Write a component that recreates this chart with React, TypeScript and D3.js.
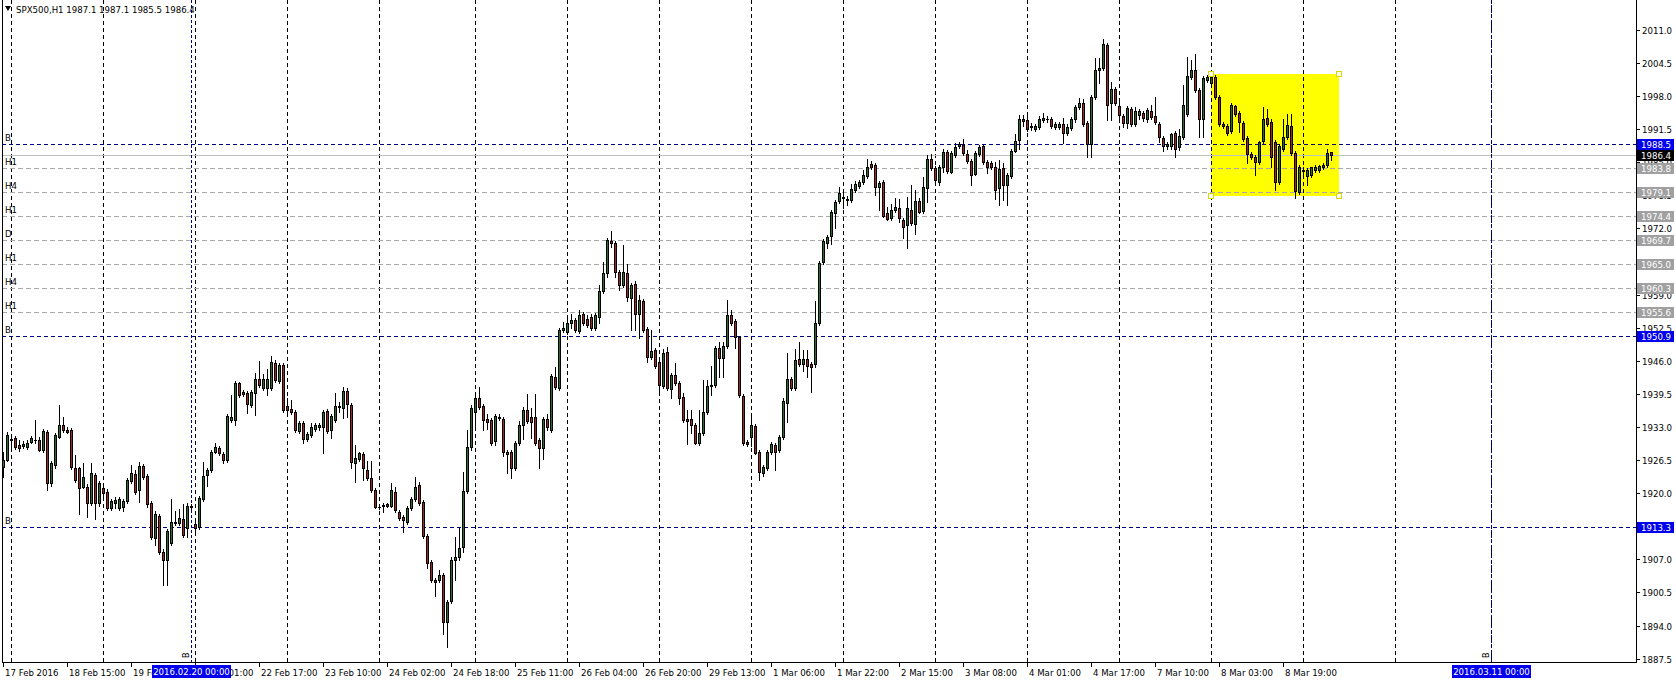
import React from "react";
import * as d3 from "d3";

// ---- OHLC data (SPX500, H1), bar 0 .. bar 332 ----
const opens = [
  1925.2, 1926.5, 1930.6, 1930.8, 1929.5, 1929.3, 1929.1, 1930.1, 1930.5, 1930.4,
  1928.5, 1932.1, 1921.9, 1925.5, 1931.0, 1933.4, 1932.5, 1932.4, 1924.9, 1924.9,
  1921.3, 1921.3, 1918.0, 1923.6, 1918.0, 1921.0, 1920.3, 1917.0, 1918.0, 1917.0,
  1917.2, 1918.4, 1922.3, 1923.8, 1920.6, 1925.3, 1923.4, 1918.0, 1911.1, 1915.5,
  1908.5, 1906.9, 1910.3, 1914.4, 1914.1, 1915.0, 1913.1, 1917.3, 1913.9, 1913.3,
  1918.8, 1923.6, 1924.5, 1928.1, 1928.8, 1927.7, 1926.6, 1934.4, 1934.4, 1941.6,
  1939.9, 1939.7, 1937.4, 1939.6, 1942.5, 1940.6, 1940.6, 1940.6, 1945.5, 1942.1,
  1945.2, 1937.1, 1936.5, 1936.0, 1932.3, 1933.7, 1930.6, 1931.4, 1932.6, 1932.9,
  1932.9, 1936.1, 1932.5, 1934.4, 1937.1, 1936.8, 1940.1, 1937.4, 1926.0, 1926.8,
  1927.6, 1924.5, 1922.9, 1920.6, 1917.3, 1917.4, 1917.8, 1917.5, 1920.3, 1916.3,
  1915.4, 1914.4, 1917.0, 1918.8, 1921.6, 1918.2, 1911.6, 1906.5, 1902.9, 1902.9,
  1903.9, 1894.7, 1898.8, 1906.9, 1907.5, 1909.5, 1920.4, 1929.1, 1936.0, 1938.7,
  1937.2, 1934.5, 1934.4, 1930.2, 1935.0, 1934.6, 1928.0, 1928.0, 1925.0, 1929.8,
  1933.4, 1936.3, 1935.0, 1935.0, 1930.4, 1928.8, 1934.6, 1932.4, 1942.9, 1940.6,
  1952.0, 1951.6, 1953.5, 1954.0, 1951.8, 1955.1, 1954.2, 1954.7, 1952.5, 1954.7,
  1959.7, 1963.2, 1969.5, 1969.1, 1963.4, 1960.8, 1963.2, 1958.4, 1961.0, 1955.1,
  1957.7, 1952.2, 1946.8, 1948.1, 1945.8, 1941.1, 1947.8, 1940.5, 1943.3, 1941.7,
  1938.8, 1934.5, 1934.5, 1933.4, 1929.8, 1931.9, 1936.0, 1941.0, 1941.2, 1948.6,
  1946.5, 1948.9, 1955.0, 1953.9, 1950.7, 1939.1, 1930.0, 1931.0, 1933.2, 1928.1,
  1924.0, 1924.9, 1928.1, 1929.4, 1928.5, 1931.0, 1937.8, 1942.4, 1940.6, 1946.3,
  1945.4, 1946.3, 1945.4, 1945.4, 1953.4, 1965.5, 1969.1, 1970.5, 1975.1, 1977.4,
  1978.1, 1977.6, 1977.5, 1979.6, 1980.3, 1981.2, 1982.3, 1984.6, 1984.5, 1980.1,
  1981.2, 1975.1, 1974.0, 1975.6, 1976.1, 1973.7, 1972.7, 1975.7, 1972.9, 1977.3,
  1975.5, 1979.9, 1985.6, 1983.8, 1981.2, 1984.0, 1987.1, 1983.1, 1986.4, 1988.2,
  1988.4, 1986.6, 1985.3, 1982.7, 1986.6, 1988.2, 1985.1, 1984.9, 1984.0, 1979.9,
  1983.8, 1980.5, 1982.3, 1987.3, 1989.4, 1993.4, 1993.3, 1991.9, 1991.5, 1991.9,
  1993.3, 1993.5, 1993.4, 1992.0, 1992.0, 1992.5, 1990.7, 1991.7, 1993.4, 1995.8,
  1996.7, 1992.8, 1988.6, 1997.8, 2003.1, 2003.5, 2008.0, 1996.6, 1999.3, 1996.1,
  1994.0, 1992.8, 1995.4, 1992.5, 1994.3, 1994.6, 1993.4, 1995.1, 1994.0, 1992.6,
  1989.7, 1988.1, 1988.1, 1990.7, 1987.9, 1989.9, 1994.5, 2001.7, 2003.1, 1999.1,
  1993.4, 2001.2, 2000.6, 2001.7, 1997.8, 1992.5, 1992.1, 1991.2, 1996.1, 1994.6,
  1992.7, 1989.7, 1986.6, 1986.1, 1985.1, 1989.1, 1993.6, 1993.0, 1988.9, 1981.2,
  1987.7, 1990.0, 1992.1, 1986.9, 1979.2, 1983.4, 1982.3, 1982.5, 1983.4, 1983.4,
  1984.1, 1984.5, 1987.1,
];
const highs = [
  1928.1, 1932.0, 1931.4, 1931.2, 1930.4, 1930.2, 1930.4, 1931.3, 1934.4, 1931.0,
  1932.6, 1932.5, 1926.3, 1931.8, 1937.3, 1935.0, 1933.0, 1932.8, 1927.5, 1925.2,
  1926.0, 1921.8, 1925.9, 1924.0, 1922.4, 1921.6, 1920.8, 1918.9, 1919.2, 1919.2,
  1918.9, 1923.0, 1925.5, 1924.5, 1926.1, 1925.8, 1923.8, 1918.4, 1916.5, 1916.0,
  1909.0, 1913.0, 1918.8, 1916.4, 1916.8, 1917.9, 1918.0, 1917.8, 1914.3, 1919.4,
  1926.2, 1925.0, 1928.4, 1929.8, 1929.2, 1928.0, 1935.5, 1939.3, 1942.0, 1941.9,
  1940.3, 1940.0, 1940.3, 1943.7, 1946.0, 1943.5, 1944.3, 1946.9, 1946.2, 1945.6,
  1945.6, 1938.6, 1938.3, 1936.4, 1934.1, 1934.1, 1932.0, 1933.7, 1933.8, 1933.8,
  1936.4, 1936.5, 1935.6, 1939.6, 1938.0, 1940.9, 1940.6, 1937.8, 1929.4, 1928.1,
  1928.0, 1926.3, 1926.3, 1921.0, 1917.6, 1918.0, 1918.1, 1921.9, 1921.3, 1916.7,
  1915.8, 1917.4, 1919.2, 1923.2, 1922.2, 1918.6, 1912.0, 1906.9, 1903.3, 1904.9,
  1904.3, 1899.1, 1907.5, 1911.4, 1913.1, 1924.1, 1932.4, 1937.3, 1939.3, 1940.9,
  1937.6, 1935.5, 1934.8, 1935.6, 1935.5, 1935.0, 1928.4, 1928.4, 1930.2, 1934.2,
  1937.0, 1939.4, 1936.8, 1939.4, 1930.8, 1935.0, 1935.5, 1943.5, 1944.8, 1952.4,
  1953.7, 1954.3, 1955.1, 1954.4, 1956.0, 1955.5, 1955.0, 1955.1, 1955.3, 1960.9,
  1965.5, 1970.1, 1971.5, 1969.5, 1963.8, 1968.7, 1965.1, 1961.3, 1961.7, 1958.9,
  1958.1, 1952.7, 1952.0, 1948.5, 1946.2, 1948.4, 1948.8, 1943.7, 1945.5, 1942.1,
  1939.6, 1936.3, 1936.3, 1933.8, 1936.3, 1942.3, 1942.3, 1945.0, 1949.0, 1949.6,
  1949.6, 1957.9, 1956.0, 1954.3, 1950.9, 1939.5, 1930.4, 1935.1, 1933.6, 1928.5,
  1925.5, 1928.5, 1930.0, 1929.8, 1931.4, 1938.6, 1947.6, 1942.8, 1948.4, 1949.6,
  1948.2, 1948.2, 1945.8, 1957.8, 1965.7, 1970.0, 1970.8, 1975.7, 1977.5, 1980.2,
  1979.2, 1978.4, 1980.7, 1981.4, 1981.6, 1983.5, 1985.6, 1985.3, 1984.9, 1981.4,
  1981.6, 1976.3, 1976.8, 1977.9, 1977.7, 1974.1, 1978.1, 1980.5, 1979.5, 1977.9,
  1982.2, 1986.4, 1986.6, 1984.2, 1984.4, 1987.7, 1987.5, 1987.3, 1988.8, 1989.0,
  1989.5, 1987.4, 1985.7, 1987.2, 1988.3, 1988.6, 1985.5, 1985.3, 1985.1, 1985.4,
  1984.8, 1982.9, 1987.7, 1990.5, 1994.3, 1994.3, 1994.5, 1992.8, 1992.5, 1994.1,
  1994.6, 1994.0, 1993.8, 1993.0, 1992.9, 1993.6, 1992.5, 1993.8, 1996.3, 1997.6,
  1997.4, 1993.2, 1998.2, 2005.4, 2005.4, 2009.2, 2008.4, 2000.8, 1999.7, 1997.2,
  1994.4, 1996.1, 1995.8, 1995.8, 1995.4, 1995.0, 1995.7, 1996.2, 1997.9, 1993.0,
  1990.1, 1989.0, 1990.8, 1991.1, 1991.5, 2000.2, 2005.6, 2005.1, 2006.3, 1999.5,
  2001.9, 2002.1, 2002.2, 2002.1, 1998.2, 1992.9, 1992.5, 1996.7, 1996.3, 1995.0,
  1993.1, 1990.1, 1987.0, 1986.5, 1989.2, 1995.8, 1995.4, 1993.4, 1989.3, 1988.6,
  1993.4, 1994.5, 1994.5, 1987.3, 1984.5, 1984.1, 1983.8, 1984.1, 1984.5, 1984.5,
  1984.9, 1987.7, 1987.1,
];
const lows = [
  1923.2, 1926.3, 1928.8, 1928.6, 1928.3, 1928.9, 1928.6, 1929.8, 1929.9, 1928.2,
  1928.1, 1920.6, 1921.5, 1925.0, 1930.8, 1932.0, 1931.8, 1924.8, 1922.2, 1916.0,
  1921.0, 1915.4, 1917.6, 1915.0, 1917.5, 1919.5, 1916.7, 1916.6, 1917.0, 1916.7,
  1916.4, 1918.0, 1922.0, 1919.8, 1918.3, 1922.8, 1917.3, 1910.9, 1909.8, 1908.1,
  1901.9, 1901.9, 1909.9, 1913.7, 1913.7, 1911.4, 1911.4, 1916.9, 1912.6, 1912.9,
  1918.4, 1921.5, 1924.2, 1927.8, 1927.4, 1926.0, 1926.2, 1934.0, 1933.4, 1938.9,
  1939.1, 1935.8, 1937.0, 1935.3, 1940.8, 1940.2, 1939.3, 1940.2, 1941.9, 1941.7,
  1935.9, 1935.9, 1935.6, 1932.0, 1931.9, 1929.8, 1930.2, 1931.0, 1932.2, 1932.5,
  1927.8, 1931.9, 1930.8, 1934.0, 1936.0, 1934.7, 1935.0, 1925.0, 1922.2, 1926.4,
  1922.6, 1922.5, 1920.2, 1917.0, 1916.9, 1916.3, 1917.2, 1917.2, 1916.3, 1914.8,
  1912.4, 1914.0, 1916.6, 1918.4, 1917.6, 1911.2, 1905.2, 1902.5, 1899.7, 1902.5,
  1892.4, 1889.8, 1898.4, 1902.9, 1906.9, 1908.5, 1920.0, 1928.5, 1932.4, 1936.6,
  1932.4, 1932.7, 1929.4, 1929.4, 1934.3, 1927.2, 1923.9, 1923.0, 1924.6, 1929.4,
  1930.6, 1933.8, 1930.9, 1929.4, 1924.9, 1926.7, 1932.5, 1932.0, 1940.5, 1940.2,
  1951.6, 1951.2, 1952.4, 1951.6, 1951.4, 1953.1, 1952.6, 1952.0, 1952.1, 1953.4,
  1959.3, 1962.5, 1968.4, 1962.5, 1959.9, 1960.4, 1957.7, 1952.0, 1952.0, 1950.5,
  1951.7, 1945.8, 1946.4, 1944.5, 1939.3, 1940.7, 1940.2, 1938.6, 1941.3, 1937.6,
  1934.0, 1929.6, 1931.9, 1929.6, 1929.4, 1931.5, 1935.6, 1939.3, 1940.8, 1942.9,
  1942.9, 1948.5, 1953.0, 1948.6, 1938.9, 1929.4, 1929.2, 1929.3, 1927.6, 1922.6,
  1923.4, 1924.5, 1927.7, 1924.5, 1928.1, 1930.6, 1934.0, 1940.2, 1940.2, 1945.0,
  1943.9, 1942.9, 1939.9, 1944.8, 1953.0, 1965.0, 1968.1, 1969.0, 1972.0, 1977.0,
  1976.1, 1976.6, 1977.1, 1979.2, 1979.9, 1980.8, 1981.9, 1983.7, 1978.6, 1975.6,
  1974.3, 1973.7, 1973.6, 1975.2, 1973.3, 1970.1, 1968.1, 1972.7, 1971.0, 1975.0,
  1975.1, 1977.1, 1983.4, 1980.5, 1980.5, 1983.1, 1982.9, 1982.8, 1986.0, 1987.8,
  1986.4, 1984.9, 1980.5, 1982.5, 1986.2, 1984.7, 1982.8, 1983.7, 1977.7, 1976.6,
  1977.6, 1976.6, 1981.9, 1987.0, 1987.7, 1992.1, 1991.1, 1991.3, 1991.1, 1991.5,
  1993.0, 1993.0, 1991.7, 1991.6, 1991.6, 1988.7, 1990.4, 1991.3, 1993.0, 1995.4,
  1992.1, 1986.1, 1986.1, 1997.4, 2000.5, 2003.1, 1993.3, 1993.3, 1996.3, 1993.4,
  1992.0, 1991.7, 1992.1, 1992.1, 1993.4, 1993.2, 1993.0, 1993.4, 1992.6, 1989.0,
  1987.3, 1987.7, 1987.7, 1986.1, 1987.5, 1989.5, 1994.1, 2001.3, 1998.8, 1990.0,
  1990.0, 2000.8, 2000.2, 1997.4, 1992.1, 1991.7, 1990.4, 1990.8, 1994.1, 1991.0,
  1989.1, 1984.9, 1985.6, 1982.5, 1984.7, 1988.7, 1992.1, 1984.1, 1979.6, 1980.8,
  1987.3, 1989.6, 1986.5, 1977.9, 1978.8, 1982.5, 1980.5, 1982.2, 1983.0, 1983.0,
  1983.7, 1984.1, 1985.5,
];
const closes = [
  1926.5, 1931.5, 1930.5, 1929.1, 1928.9, 1929.7, 1929.9, 1930.8, 1930.4, 1928.5,
  1932.3, 1921.9, 1925.9, 1931.4, 1933.4, 1932.4, 1932.1, 1925.1, 1922.6, 1921.0,
  1923.2, 1918.1, 1924.0, 1918.1, 1921.9, 1920.0, 1917.0, 1918.5, 1918.6, 1918.8,
  1918.5, 1922.6, 1923.9, 1920.3, 1925.3, 1923.2, 1917.9, 1911.3, 1916.0, 1908.5,
  1906.9, 1912.6, 1914.4, 1914.1, 1915.2, 1911.8, 1917.5, 1917.4, 1913.1, 1919.0,
  1923.4, 1924.5, 1928.0, 1929.0, 1927.8, 1926.5, 1935.2, 1934.9, 1941.6, 1939.3,
  1939.5, 1937.5, 1939.9, 1942.5, 1941.2, 1942.5, 1942.4, 1945.8, 1942.2, 1945.2,
  1936.3, 1936.3, 1936.0, 1932.4, 1933.7, 1930.6, 1931.6, 1933.0, 1933.3, 1933.4,
  1936.0, 1932.3, 1935.2, 1937.2, 1936.9, 1940.1, 1937.6, 1926.2, 1927.0, 1927.8,
  1924.9, 1922.9, 1920.6, 1917.3, 1917.2, 1917.6, 1917.5, 1920.6, 1916.7, 1915.2,
  1914.7, 1917.0, 1918.8, 1921.3, 1918.0, 1911.6, 1906.2, 1902.9, 1902.5, 1904.0,
  1894.7, 1898.7, 1906.9, 1907.5, 1909.3, 1920.4, 1929.1, 1936.8, 1938.7, 1937.0,
  1934.4, 1934.0, 1929.8, 1935.2, 1934.7, 1928.0, 1927.7, 1924.9, 1929.8, 1933.4,
  1936.3, 1934.2, 1934.0, 1929.8, 1928.9, 1934.6, 1932.9, 1943.1, 1940.9, 1952.0,
  1952.5, 1953.5, 1954.0, 1952.0, 1955.0, 1953.5, 1953.0, 1952.4, 1955.0, 1959.7,
  1963.2, 1969.7, 1969.1, 1963.4, 1960.9, 1963.4, 1958.6, 1960.9, 1955.1, 1957.9,
  1952.0, 1946.8, 1947.9, 1945.0, 1941.2, 1947.5, 1940.6, 1943.3, 1941.7, 1938.6,
  1934.4, 1934.2, 1933.4, 1929.9, 1931.9, 1936.0, 1941.0, 1941.2, 1948.6, 1946.5,
  1948.9, 1955.0, 1953.4, 1950.6, 1939.3, 1929.8, 1929.6, 1933.4, 1927.8, 1924.2,
  1925.1, 1928.1, 1929.6, 1928.1, 1931.0, 1938.2, 1942.5, 1940.6, 1946.1, 1945.4,
  1946.3, 1945.0, 1944.7, 1953.4, 1965.3, 1969.6, 1970.4, 1975.3, 1977.1, 1979.0,
  1978.0, 1977.7, 1979.7, 1980.7, 1981.2, 1982.5, 1984.0, 1984.1, 1980.1, 1981.0,
  1974.4, 1973.8, 1975.7, 1976.3, 1974.0, 1972.2, 1976.1, 1973.0, 1977.3, 1975.3,
  1980.1, 1985.6, 1983.8, 1981.6, 1984.0, 1987.1, 1983.3, 1986.9, 1987.9, 1988.6,
  1986.8, 1985.3, 1982.5, 1986.8, 1987.9, 1985.1, 1984.1, 1984.1, 1979.5, 1983.6,
  1980.5, 1982.5, 1987.3, 1989.2, 1993.4, 1993.2, 1991.5, 1992.1, 1992.1, 1993.4,
  1993.6, 1993.4, 1992.1, 1992.5, 1992.5, 1990.7, 1991.9, 1993.4, 1995.8, 1996.7,
  1992.5, 1988.6, 1997.8, 2003.1, 2003.5, 2008.2, 1996.2, 1999.3, 1996.7, 1994.3,
  1992.8, 1995.6, 1992.5, 1995.1, 1995.1, 1993.6, 1995.3, 1993.8, 1993.0, 1989.9,
  1988.2, 1988.6, 1990.6, 1987.7, 1990.2, 1996.3, 2001.9, 2003.1, 1999.2, 1993.4,
  2001.5, 2001.7, 2001.8, 1997.8, 1992.5, 1992.1, 1990.8, 1996.3, 1994.5, 1993.0,
  1989.5, 1986.6, 1986.0, 1985.1, 1988.9, 1993.4, 1992.5, 1986.1, 1981.2, 1988.2,
  1989.9, 1992.3, 1986.9, 1979.4, 1984.1, 1983.3, 1983.4, 1984.0, 1984.1, 1984.3,
  1984.5, 1986.9, 1986.4,
];

// ---- axes ----
const priceTicks = [
  1887.5, 1894.0, 1900.5, 1907.0, 1913.5, 1920.0, 1926.5, 1933.0, 1939.5, 1946.0,
  1952.5, 1959.0, 1965.5, 1972.0, 1978.5, 1985.0, 1991.5, 1998.0, 2004.5, 2011.0,
];
const timeLabels = [
  "17 Feb 2016", "18 Feb 15:00", "19 Feb 08:00", "22 Feb 01:00", "22 Feb 17:00",
  "23 Feb 10:00", "24 Feb 02:00", "24 Feb 18:00", "25 Feb 11:00", "26 Feb 04:00",
  "26 Feb 20:00", "29 Feb 13:00", "1 Mar 06:00", "1 Mar 22:00", "2 Mar 15:00",
  "3 Mar 08:00", "4 Mar 01:00", "4 Mar 17:00", "7 Mar 10:00", "8 Mar 03:00",
  "8 Mar 19:00",
];
const timeLabelStep = 16; // bars between time labels
const gridBars = [2, 25, 48, 71, 94, 118, 141, 164, 187, 210, 233, 256, 279, 302, 325, 348, 372];

// ---- horizontal levels ----
const levelPrices = [1988.5, 1983.8, 1979.1, 1974.4, 1969.7, 1965.0, 1960.3, 1955.6, 1950.9, 1913.3];
const levelTags = ["B", "H1", "H4", "H1", "D", "H1", "H4", "H1", "B", "B"];

// ---- vertical events ----
const eventBars = [47, 372];
const eventLabels = ["2016.02.20 00:00", "2016.03.11 00:00"];

// ---- rectangle object ----
const rectBars = [302, 334];
const rectPrices = [2002.3, 1978.4];

const BULL = "#2b6b2b";
const BEAR = "#a32626";
const NAVY = "#000080";
const FONT = "'DejaVu Sans', Verdana, Tahoma, sans-serif";
const FS = 8.6;

export default function App() {
  const n = closes.length;
  const x = d3.scaleLinear().domain([0, 1]).range([3, 7]);
  const y = d3.scaleLinear().domain([1887.5, 2011.0]).range([658.6, 29.9]);
  const X = (i: number) => Math.round(x(i));
  const Y = (p: number) => Math.round(y(p));

  const plotL = 2;
  const plotR = 1636;
  const plotB = 662;
  const fmt = (v: number) => v.toFixed(1);

  const lastO = opens[n - 1], lastH = highs[n - 1], lastL = lows[n - 1], lastC = closes[n - 1];

  return (
    <svg
      width={1676}
      height={683}
      style={{ position: "absolute", left: 0, top: 0, background: "#fff" }}
    >
      <rect x={0} y={0} width={1676} height={683} fill="#fff" />
      {/* yellow rectangle */}
      <rect
        x={X(rectBars[0])}
        y={Y(rectPrices[0])}
        width={X(rectBars[1]) - X(rectBars[0])}
        height={Y(rectPrices[1]) - Y(rectPrices[0])}
        fill="#ffff00"
        shapeRendering="crispEdges"
      />
      {/* vertical grid */}
      <g shapeRendering="crispEdges">
        {gridBars.map((b) => (
          <line key={b} x1={X(b) + 0.5} x2={X(b) + 0.5} y1={0} y2={plotB} stroke="#000" strokeDasharray="4,3" />
        ))}
      </g>
      {/* horizontal level lines */}
      <g shapeRendering="crispEdges">
        {levelPrices.map((p, k) => (
          <line
            key={k}
            x1={plotL}
            x2={plotR}
            y1={Y(p) + 0.5}
            y2={Y(p) + 0.5}
            stroke={levelTags[k] === "B" ? NAVY : "#a8a8a8"}
            strokeDasharray={levelTags[k] === "B" ? "4,3" : "5,3"}
          />
        ))}
        <line x1={plotL} x2={plotR} y1={Y(lastC) + 0.5} y2={Y(lastC) + 0.5} stroke="#c0c0c0" />
      </g>
      {/* event vertical lines */}
      <g shapeRendering="crispEdges">
        {eventBars.map((b, k) => (
          <line key={k} x1={X(b) + 0.5} x2={X(b) + 0.5} y1={0} y2={plotB} stroke={NAVY} strokeDasharray="3,2" />
        ))}
      </g>
      {/* candles */}
      <g shapeRendering="crispEdges">
        {d3.range(n).map((i) => {
          const cx = X(i);
          const o = opens[i];
          const c = closes[i];
          const up = c >= o;
          const yt = Y(Math.max(o, c));
          const yb = Y(Math.min(o, c));
          const yh = Y(highs[i]);
          const yl = Y(lows[i]);
          return (
            <g key={i}>
              <rect x={cx} y={yh} width={1} height={yl - yh + 1} fill="#000" />
              <rect x={cx - 1} y={yt} width={3} height={Math.max(1, yb - yt + 1)} fill="#000" />
              {yb - yt >= 2 && (
                <rect x={cx} y={yt + 1} width={1} height={yb - yt - 1} fill={up ? BULL : BEAR} />
              )}
            </g>
          );
        })}
      </g>
      {/* frame */}
      <g shapeRendering="crispEdges">
        <line x1={plotL + 0.5} x2={plotL + 0.5} y1={0} y2={plotB} stroke="#000" />
        <line x1={plotR + 0.5} x2={plotR + 0.5} y1={0} y2={plotB + 1} stroke="#000" />
        <line x1={plotL} x2={plotR + 1} y1={plotB + 0.5} y2={plotB + 0.5} stroke="#000" />
      </g>
      {/* price axis */}
      <g fontFamily={FONT} fontSize={FS}>
        {priceTicks.map((t) => (
          <g key={t}>
            <line x1={plotR + 1} x2={plotR + 4} y1={Y(t) + 0.5} y2={Y(t) + 0.5} stroke="#000" shapeRendering="crispEdges" />
            <text x={plotR + 6} y={Y(t) + 3.5} fill="#000">
              {fmt(t)}
            </text>
          </g>
        ))}
        {levelPrices.map((p, k) => (
          <g key={k}>
            <rect
              x={plotR + 1}
              y={Y(p) - 5}
              width={37}
              height={11}
              fill={levelTags[k] === "B" ? "#0000ee" : "#a0a0a0"}
              shapeRendering="crispEdges"
            />
            <text x={plotR + 5} y={Y(p) + 4} fill="#fff">
              {fmt(p)}
            </text>
          </g>
        ))}
        <rect x={plotR + 1} y={Y(lastC) - 5} width={37} height={11} fill="#000" shapeRendering="crispEdges" />
        <text x={plotR + 5} y={Y(lastC) + 4} fill="#fff">
          {fmt(lastC)}
        </text>
      </g>
      {/* level tags on the left */}
      <g fontFamily={FONT} fontSize={FS} fill="#000">
        {levelPrices.map((p, k) => (
          <text key={k} x={5} y={Y(p) - 3}>
            {levelTags[k]}
          </text>
        ))}
      </g>
      {/* time axis */}
      <g fontFamily={FONT} fontSize={FS}>
        {timeLabels.map((lab, k) => {
          const bx = X(k * timeLabelStep);
          return (
            <g key={k}>
              <line x1={bx + 0.5} x2={bx + 0.5} y1={plotB + 1} y2={plotB + 5} stroke="#000" shapeRendering="crispEdges" />
              <text x={bx + 2} y={plotB + 14} fill="#000">
                {lab}
              </text>
            </g>
          );
        })}
        {eventBars.map((b, k) => (
          <g key={k}>
            <rect x={X(b) - 39} y={plotB + 3} width={79} height={13} fill="#0000ee" shapeRendering="crispEdges" />
            <text x={X(b) + 0.5} y={plotB + 13} fill="#fff" textAnchor="middle">
              {eventLabels[k]}
            </text>
            <text
              transform={`translate(${X(b) - 2},${plotB - 4}) rotate(-90)`}
              fill="#000"
              fontSize={8}
            >
              B
            </text>
          </g>
        ))}
      </g>
      {/* rectangle handles */}
      <g shapeRendering="crispEdges">
        {rectBars.map((b) =>
          rectPrices.map((p) => (
            <rect
              key={`${b}-${p}`}
              x={X(b) - 2.5}
              y={Y(p) - 2.5}
              width={5}
              height={5}
              fill="#ffffff"
              stroke="#d8d800"
            />
          ))
        )}
      </g>
      {/* header */}
      <path d="M5,6 L11,6 L8,11 Z" fill="#000" />
      <text x={16} y={13} fontFamily={FONT} fontSize={FS} fill="#000">
        {`SPX500,H1  ${fmt(lastO)} ${fmt(lastH)} ${fmt(lastL)} ${fmt(lastC)}`}
      </text>
    </svg>
  );
}
